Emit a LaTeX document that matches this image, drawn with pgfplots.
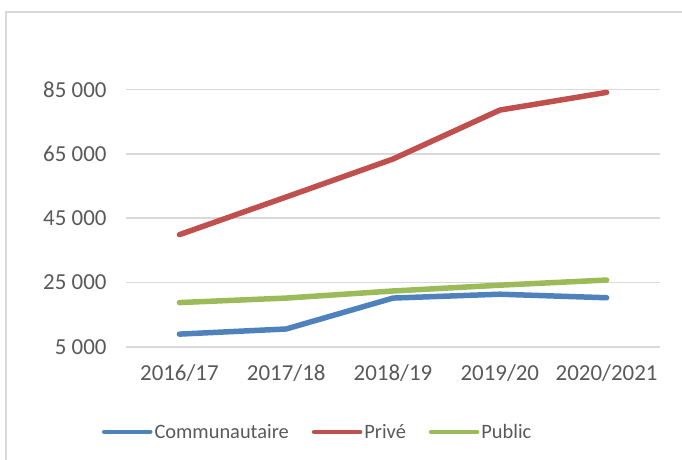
\documentclass[border=0pt]{standalone}
\usepackage{pgfplots}
\pgfplotsset{compat=1.18}
\usepackage{fontspec}
\setmainfont{Carlito}
\definecolor{cblue}{HTML}{4F81BD}
\definecolor{cred}{HTML}{C0504D}
\definecolor{cgreen}{HTML}{9BBB59}
\definecolor{ctext}{HTML}{595959}
\definecolor{cgrid}{HTML}{D9D9D9}
\begin{document}
\begin{tikzpicture}[x=1bp,y=1bp]
\path[use as bounding box] (0,0) rectangle (682,460);
\draw[cgrid, line width=1.5bp] (6,0) -- (6,448) -- (682,448);
\begin{axis}[
  at={(126bp,113bp)}, anchor=south west,
  scale only axis, width=534bp, height=257.5bp,
  xmin=-0.5, xmax=4.5, ymin=5000, ymax=85000,
  scaled y ticks=false,
  axis line style={draw=none},
  major tick style={draw=none},
  xtick={0,1,2,3,4},
  xticklabels={2016/17,2017/18,2018/19,2019/20,2020/2021},
  ytick={5000,25000,45000,65000,85000},
  yticklabels={5 000,25 000,45 000,65 000,85 000},
  ymajorgrids, grid style={cgrid, line width=1.5bp},
  tick label style={font=\fontsize{23}{27}\selectfont, text=ctext},
  yticklabel style={xshift=-16bp},
  xticklabel style={yshift=-14bp},
  legend style={at={(0.359,-0.33)}, anchor=center, draw=none, fill=none,
    font=\fontsize{20.5}{24}\selectfont, text=ctext, legend columns=-1,
    nodes={inner sep=2bp},
    /tikz/every even column/.append style={column sep=21bp}, inner sep=0pt},
  legend image code/.code={\draw[#1, line width=4.5bp, line cap=round] (0,0) -- (46bp,0);},
  every axis plot/.append style={line width=5.5bp, line join=round, line cap=round},
  clip=false,
]
\addplot[cblue] coordinates {(0,9000) (1,10600) (2,20200) (3,21400) (4,20300)};
\addlegendentry{Communautaire}
\addplot[cred] coordinates {(0,39900) (1,51600) (2,63400) (3,78600) (4,84100)};
\addlegendentry{Privé}
\addplot[cgreen] coordinates {(0,18800) (1,20200) (2,22400) (3,24200) (4,25800)};
\addlegendentry{Public}
\end{axis}
\end{tikzpicture}
\end{document}
